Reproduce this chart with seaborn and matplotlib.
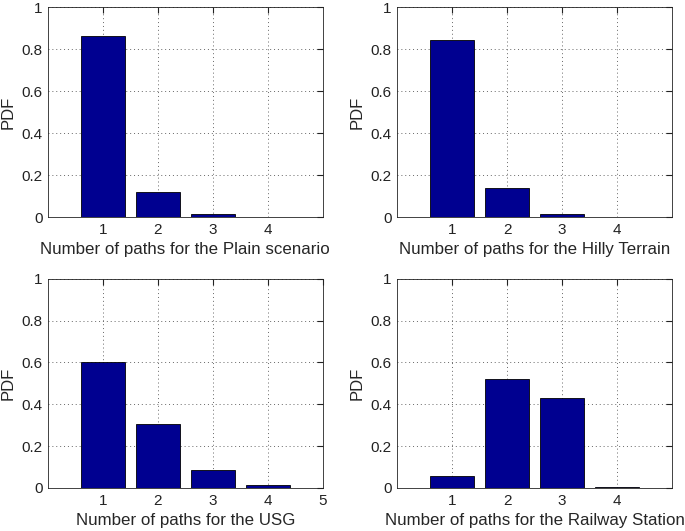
import pandas as pd
import seaborn as sns
import matplotlib.pyplot as plt
from matplotlib.ticker import FuncFormatter

# values
plain_paths = [1, 2, 3, 4]
plain_pdf = [0.866, 0.118, 0.014, 0.002]

hilly_paths = [1, 2, 3, 4]
hilly_pdf = [0.843, 0.138, 0.016, 0.002]

usg_paths = [1, 2, 3, 4, 5]
usg_pdf = [0.604, 0.305, 0.085, 0.014, 0.002]

railway_paths = [1, 2, 3, 4]
railway_pdf = [0.055, 0.521, 0.431, 0.003]

panels = [
    (plain_paths, plain_pdf, 'Number of paths for the Plain scenario', [1, 2, 3, 4]),
    (hilly_paths, hilly_pdf, 'Number of paths for the Hilly Terrain', [1, 2, 3, 4]),
    (usg_paths, usg_pdf, 'Number of paths for the USG', [1, 2, 3, 4, 5]),
    (railway_paths, railway_pdf, 'Number of paths for the Railway Station', [1, 2, 3, 4]),
]

sns.set_style("white")
plt.rcParams['font.family'] = ['Liberation Sans', 'DejaVu Sans']

fig = plt.figure(figsize=(6.85, 5.31), dpi=100)
positions = [
    [0.070, 0.591, 0.401, 0.395],
    [0.580, 0.591, 0.401, 0.395],
    [0.070, 0.081, 0.401, 0.394],
    [0.580, 0.081, 0.401, 0.394],
]

for pos, (paths, pdf, xlabel, xticks) in zip(positions, panels):
    ax = fig.add_axes(pos)
    df = pd.DataFrame({'paths': paths, 'pdf': pdf})
    sns.barplot(data=df, x='paths', y='pdf', native_scale=True, width=0.8,
                color='#000090', saturation=1, edgecolor='black', linewidth=0.6, ax=ax)
    ax.set_xlim(0, 5)
    ax.set_ylim(0, 1)
    ax.set_xticks(xticks)
    ax.set_yticks([0, 0.2, 0.4, 0.6, 0.8, 1])
    ax.yaxis.set_major_formatter(FuncFormatter(lambda v, p: '%g' % v))
    ax.grid(True, linestyle=(0, (1, 3)), color='#666666', linewidth=0.7)
    ax.set_axisbelow(True)
    ax.tick_params(direction='in', top=True, right=True, length=4, labelsize=11,
                   colors='#222222', pad=4)
    for s in ax.spines.values():
        s.set_color('#222222')
        s.set_linewidth(0.6)
    ax.set_xlabel(xlabel, fontsize=12.2, labelpad=4)
    ax.set_ylabel('PDF', fontsize=12, labelpad=4)

fig.savefig('out.png', dpi=100)
